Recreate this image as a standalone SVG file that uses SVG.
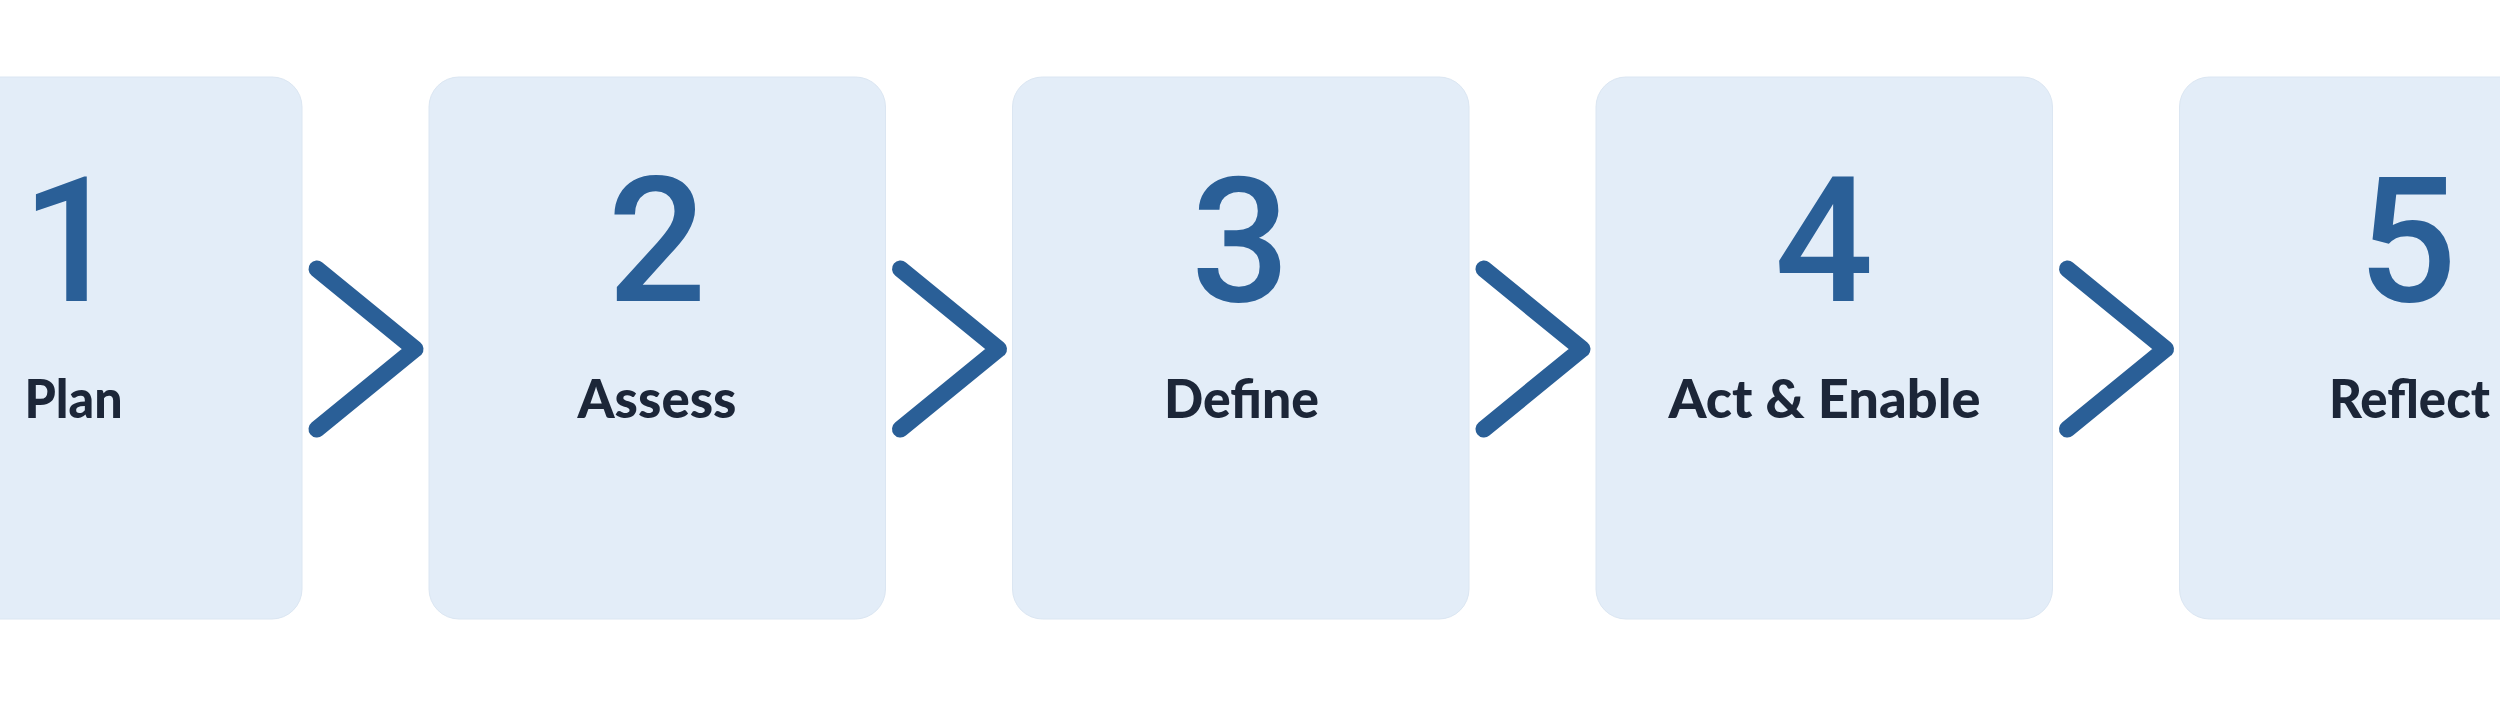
<svg xmlns="http://www.w3.org/2000/svg" width="2500" height="714" viewBox="0 0 2500 714">
<style>
.box{fill:#e3edf8;stroke:#dbe6f2;stroke-width:1}
.num{font-family:Roboto,"Liberation Sans",sans-serif;font-weight:500;font-size:174px;fill:#2a5f97;text-anchor:middle}
.lbl{font-family:Lato,"Liberation Sans",sans-serif;font-weight:900;font-size:53px;fill:#1c2638;text-anchor:middle}
.chev{fill:none;stroke:#2a5f97;stroke-width:17;stroke-linecap:round;stroke-linejoin:round}
</style>
<rect width="2500" height="714" fill="#ffffff"/>
<g id="step1">
<rect class="box" x="-154.5" y="77" width="456.5" height="542" rx="30"/>
<text class="num" x="71" y="301">1</text>
<text class="lbl" x="73.5" y="418" textLength="98" lengthAdjust="spacingAndGlyphs">Plan</text>
</g>
<g id="step2">
<rect class="box" x="429" y="77" width="456.5" height="542" rx="30"/>
<text class="num" x="657" y="301">2</text>
<text class="lbl" x="657" y="418" textLength="159" lengthAdjust="spacingAndGlyphs">Assess</text>
</g>
<g id="step3">
<rect class="box" x="1012.5" y="77" width="456.5" height="542" rx="30"/>
<text class="num" x="1240.5" y="301">3</text>
<text class="lbl" x="1241.5" y="418" textLength="155" lengthAdjust="spacingAndGlyphs">Define</text>
</g>
<g id="step4">
<rect class="box" x="1596" y="77" width="456.5" height="542" rx="30"/>
<text class="num" x="1824" y="301">4</text>
<text class="lbl" x="1824.5" y="418" textLength="312" lengthAdjust="spacingAndGlyphs">Act &amp; Enable</text>
</g>
<g id="step5">
<rect class="box" x="2179.5" y="77" width="456.5" height="542" rx="30"/>
<text class="num" x="2407.5" y="301">5</text>
<text class="lbl" x="2409.5" y="418" textLength="161" lengthAdjust="spacingAndGlyphs">Reflect</text>
</g>
<g id="connectors">
<polyline class="chev" points="317,269 415,349 317,429"/>
<polyline class="chev" points="900.5,269 998.5,349 900.5,429"/>
<polyline class="chev" points="1484,269 1582,349 1484,429"/>
<polyline class="chev" points="2067.5,269 2165.5,349 2067.5,429"/>
</g>
</svg>
